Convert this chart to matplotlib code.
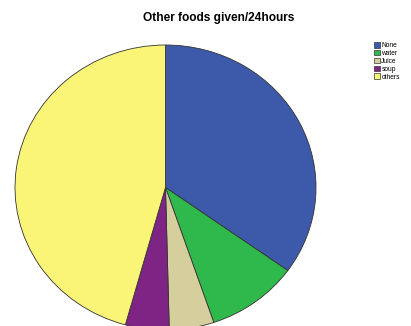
import matplotlib.pyplot as plt
import numpy as np

plt.rcParams['font.family'] = ['Liberation Sans', 'DejaVu Sans']

labels = ["None", "water", "Juice", "soup", "others"]
values = [34.9, 9.9, 4.8, 4.7, 45.7]
colors = ["#3d59a9", "#2fb84b", "#d5cf9e", "#7e2484", "#fbf577"]

fig = plt.figure(figsize=(4.11, 3.26), dpi=100)
ax = fig.add_axes([15 / 411, -4 / 326, 301 / 411, 285 / 326])

wedges, _ = ax.pie(values, colors=colors, startangle=90, counterclock=False,
                   wedgeprops=dict(edgecolor="#333333", linewidth=0.6))
ax.set_aspect('auto')
ax.set_xlim(-1, 1)
ax.set_ylim(-1, 1)

fig.text(219 / 411, 1 - 18 / 326, "Other foods given/24hours", ha='center', va='center',
         fontsize=8.6, fontweight='bold')

leg = fig.legend(wedges, labels, loc='upper left', bbox_to_anchor=(374 / 411, 1 - 42 / 326),
                 frameon=False, fontsize=4.8, handlelength=0.9, handleheight=0.9,
                 handletextpad=0.2, labelspacing=0.12, borderpad=0, borderaxespad=0)
for h in leg.legend_handles:
    h.set_edgecolor("#333333")
    h.set_linewidth(0.5)

plt.savefig('out.png', dpi=100)
